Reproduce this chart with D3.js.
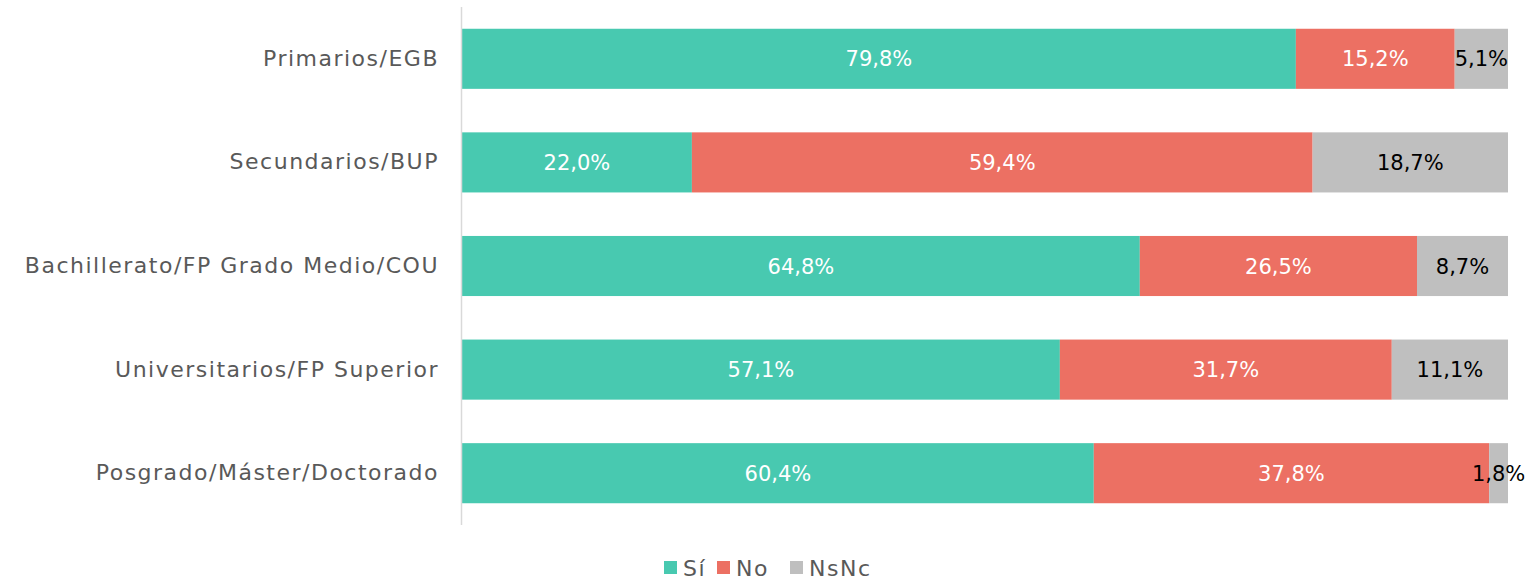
<!DOCTYPE html>
<html>
<head>
<meta charset="utf-8">
<script src="https://cdn.jsdelivr.net/npm/d3@7"></script>
<style>
  body { margin: 0; background: #fff; }
  svg { display: block; font-family: "DejaVu Sans", sans-serif; }
</style>
</head>
<body>
<div id="chart"></div>
<script>
// categories and series (percent values)
const categories = [
  'Primarios/EGB',
  'Secundarios/BUP',
  'Bachillerato/FP Grado Medio/COU',
  'Universitarios/FP Superior',
  'Posgrado/Máster/Doctorado'
];
const seriesNames = ['Sí', 'No', 'NsNc'];
const si   = [79.8, 22.0, 64.8, 57.1, 60.4];
const no   = [15.2, 59.4, 26.5, 31.7, 37.8];
const nsnc = [5.1, 18.7, 8.7, 11.1, 1.8];
const colors = ['#48C9B0', '#EC7063', '#BFBFBF'];
const labelColors = ['#ffffff', '#ffffff', '#000000'];

const width = 1528, height = 580;
const margin = { top: 7, right: 20, bottom: 56, left: 461 };

// build rows for d3.stack
const rows = categories.map((c, i) => ({ cat: c, 'Sí': si[i], 'No': no[i], 'NsNc': nsnc[i] }));
const stacked = d3.stack().keys(seriesNames).offset(d3.stackOffsetExpand)(rows);

const svg = d3.select('#chart').append('svg')
  .attr('width', width)
  .attr('height', height);

const x = d3.scaleLinear().domain([0, 1]).range([margin.left + 1, 1508]);
const y = d3.scaleBand()
  .domain(categories)
  .range([margin.top, height - margin.bottom + 1])
  .paddingInner(0.42)
  .paddingOuter(0.21);

const fmt = v => d3.format('.1f')(v).replace('.', ',') + '%';

// bars
const layers = svg.append('g').selectAll('g')
  .data(stacked)
  .join('g')
  .attr('fill', (d, i) => colors[i]);

layers.selectAll('rect')
  .data(d => d)
  .join('rect')
  .attr('x', d => x(d[0]))
  .attr('y', d => y(d.data.cat))
  .attr('width', d => x(d[1]) - x(d[0]))
  .attr('height', y.bandwidth());

// data labels
svg.append('g').selectAll('g')
  .data(stacked)
  .join('g')
  .attr('fill', (d, i) => labelColors[i])
  .each(function(layer) {
    d3.select(this).selectAll('text')
      .data(layer)
      .join('text')
      .attr('x', d => (x(d[0]) + x(d[1])) / 2)
      .attr('y', d => y(d.data.cat) + y.bandwidth() / 2)
      .attr('dy', '0.36em')
      .attr('text-anchor', 'middle')
      .attr('font-size', 21)
      .text(d => fmt(d.data[layer.key]));
  });

// category axis
const yAxis = svg.append('g')
  .attr('transform', `translate(${margin.left},0)`)
  .call(d3.axisLeft(y).tickSize(0).tickPadding(22));
yAxis.select('.domain').remove();
yAxis.selectAll('text')
  .attr('font-size', 22)
  .attr('font-family', '"DejaVu Sans", sans-serif')
  .attr('letter-spacing', 1.5)
  .attr('fill', '#595959');
svg.append('line')
  .attr('x1', margin.left + 0.5).attr('x2', margin.left + 0.5)
  .attr('y1', margin.top).attr('y2', height - margin.bottom + 1)
  .attr('stroke', '#D9D9D9').attr('stroke-width', 1.5);

// legend
const legendX = [664, 717, 790];
const legend = svg.append('g').selectAll('g')
  .data(seriesNames)
  .join('g')
  .attr('transform', (d, i) => `translate(${legendX[i]},561)`);
legend.append('rect')
  .attr('width', 13).attr('height', 13)
  .attr('fill', (d, i) => colors[i]);
legend.append('text')
  .attr('x', 19).attr('y', 15)
  .attr('font-size', 22)
  .attr('letter-spacing', 1.5)
  .attr('fill', '#595959')
  .text(d => d);
</script>
</body>
</html>
